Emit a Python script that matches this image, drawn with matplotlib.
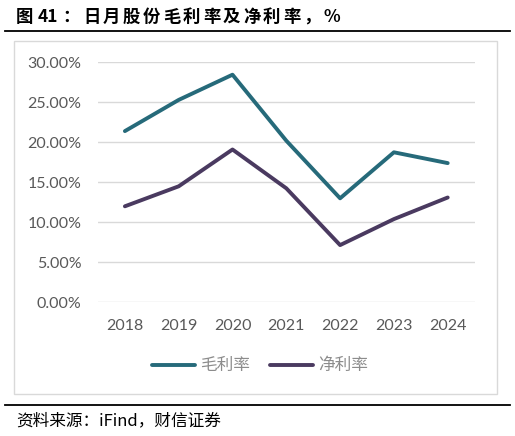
import matplotlib.pyplot as plt
from matplotlib.patches import Rectangle
from matplotlib.lines import Line2D
from matplotlib.ticker import FuncFormatter

years = ['2018', '2019', '2020', '2021', '2022', '2023', '2024']
gross_margin = [21.4, 25.3, 28.45, 20.2, 13.0, 18.75, 17.4]
net_margin = [12.0, 14.5, 19.1, 14.25, 7.15, 10.4, 13.1]

title_head = ['图', '41', '：']
title_body = '日月股份毛利率及净利率，%'
source = '资料来源：iFind，财信证券'

cjk = ['Noto Sans CJK SC', 'DejaVu Sans']
num_font = ['Lato', 'DejaVu Sans']

W, H = 515, 436
fig = plt.figure(figsize=(W / 100, H / 100), dpi=100)

# header / footer rules and the chart frame
fig.add_artist(Line2D([5 / W, 510 / W], [1 - 31 / H, 1 - 31 / H], color='black', lw=1.3))
fig.add_artist(Line2D([5 / W, 510 / W], [1 - 405 / H, 1 - 405 / H], color='black', lw=1.3))
fig.add_artist(Rectangle((14 / W, 1 - 394 / H), (497 - 14) / W, (394 - 41) / H,
                         fill=False, edgecolor='#D9D9D9', lw=1))

# title, spaced out character by character like the report's typesetting
ty = 1 - 17 / H
for s, px in zip(title_head, [24, 48, 71]):
    fig.text(px / W, ty, s, family=cjk, fontweight='bold', fontsize=12.5,
             va='center', ha='center', color='black')
for i, ch in enumerate(title_body):
    fig.text((91.7 + 20 * i) / W, ty, ch, family=cjk, fontweight='bold', fontsize=12.5,
             va='center', ha='center', color='black')

fig.text(16 / W, 1 - 421 / H, source, family=cjk, style='italic', fontsize=12,
         va='center', ha='left', color='black')

ax = fig.add_axes([98 / W, 1 - 302.3 / H, (474.6 - 98) / W, (302.3 - 62.3) / H])
x = range(len(years))
ax.plot(x, gross_margin, color='#266A7A', lw=2.8, solid_capstyle='round', label='毛利率')
ax.plot(x, net_margin, color='#4A3A60', lw=2.8, solid_capstyle='round', label='净利率')

ax.set_xlim(-0.5, len(years) - 0.5)
ax.set_ylim(0, 30)
ax.set_yticks([0, 5, 10, 15, 20, 25, 30])
ax.yaxis.set_major_formatter(FuncFormatter(lambda v, p: f'{v:.2f}%'))
ax.set_xticks(list(x))
ax.set_xticklabels(years)
ax.grid(axis='y', color='#D9D9D9', lw=1)
ax.set_axisbelow(True)
for s in ax.spines.values():
    s.set_visible(False)
ax.tick_params(length=0, colors='#595959', labelsize=11.5)
ax.tick_params(axis='y', pad=12)
ax.tick_params(axis='x', pad=12)
for lab in ax.get_xticklabels() + ax.get_yticklabels():
    lab.set_family(num_font)

leg = ax.legend(loc='center', bbox_to_anchor=(0.43, -0.265), ncol=2, frameon=False,
                handlelength=2.6, columnspacing=1.2, handletextpad=0.3,
                prop={'family': cjk, 'size': 12, 'weight': 'light'})
for t in leg.get_texts():
    t.set_color('#8C8C8C')

fig.savefig('out.png', dpi=100)
